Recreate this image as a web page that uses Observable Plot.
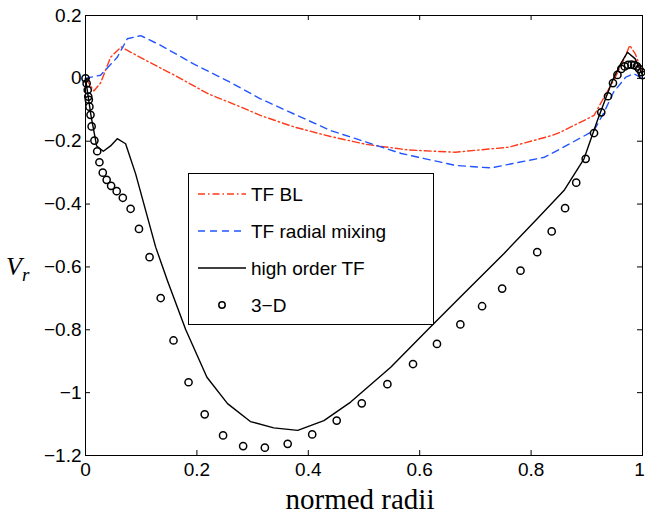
<!DOCTYPE html>
<html><head><meta charset="utf-8">
<script src="https://cdn.jsdelivr.net/npm/d3@7"></script>
<script src="https://cdn.jsdelivr.net/npm/@observablehq/plot@0.6"></script>
<style>body{margin:0;background:#fff}</style>
</head><body><div id="chart"></div>
<script>
// TF BL (red dash-dot)
const blX = [0, 0.015, 0.027, 0.045, 0.064, 0.1, 0.165, 0.22, 0.28, 0.314, 0.375, 0.44, 0.504, 0.58, 0.664, 0.76, 0.837, 0.853, 0.913, 0.931, 0.948, 0.966, 0.977, 0.987, 0.996, 1.0];
const blY = [0, -0.04, -0.015, 0.067, 0.10, 0.065, 0.005, -0.049, -0.092, -0.118, -0.155, -0.185, -0.21, -0.228, -0.235, -0.219, -0.182, -0.171, -0.118, -0.06, -0.007, 0.057, 0.105, 0.078, 0.036, 0.02];
// TF radial mixing (blue dashed)
const rmX = [0, 0.027, 0.057, 0.075, 0.099, 0.135, 0.194, 0.254, 0.314, 0.44, 0.567, 0.664, 0.728, 0.824, 0.853, 0.913, 0.931, 0.948, 0.97, 0.984, 1.0];
const rmY = [0, 0.01, 0.067, 0.126, 0.136, 0.105, 0.046, -0.007, -0.065, -0.166, -0.239, -0.277, -0.285, -0.251, -0.224, -0.166, -0.108, -0.044, 0.004, 0.015, 0.0];
// high order TF (black solid)
const hoX = [0, 0.01, 0.02, 0.032, 0.045, 0.057, 0.072, 0.09, 0.126, 0.147, 0.18, 0.218, 0.255, 0.296, 0.338, 0.381, 0.428, 0.476, 0.548, 0.613, 0.673, 0.751, 0.811, 0.859, 0.895, 0.919, 0.946, 0.962, 0.973, 0.987, 1.0];
const hoY = [0, -0.12, -0.215, -0.232, -0.215, -0.192, -0.208, -0.304, -0.537, -0.643, -0.80, -0.951, -1.035, -1.092, -1.112, -1.12, -1.089, -1.03, -0.919, -0.802, -0.696, -0.558, -0.447, -0.357, -0.256, -0.134, -0.007, 0.05, 0.083, 0.062, 0.01];
// 3-D (circles)
const tdX = [0, 0.002, 0.004, 0.005, 0.006, 0.007, 0.009, 0.011, 0.016, 0.021, 0.025, 0.031, 0.038, 0.046, 0.056, 0.067, 0.081, 0.096, 0.115, 0.135, 0.158, 0.185, 0.214, 0.247, 0.283, 0.322, 0.363, 0.407, 0.451, 0.496, 0.542, 0.588, 0.631, 0.673, 0.712, 0.748, 0.781, 0.811, 0.837, 0.861, 0.881, 0.898, 0.913, 0.926, 0.938, 0.947, 0.955, 0.962, 0.968, 0.974, 0.980, 0.985, 0.990, 0.994, 0.998, 1.0];
const tdY = [0, -0.016, -0.037, -0.058, -0.068, -0.09, -0.116, -0.153, -0.198, -0.232, -0.267, -0.3, -0.323, -0.342, -0.359, -0.38, -0.415, -0.479, -0.569, -0.699, -0.834, -0.967, -1.069, -1.136, -1.17, -1.175, -1.163, -1.133, -1.089, -1.034, -0.973, -0.909, -0.845, -0.783, -0.725, -0.669, -0.612, -0.553, -0.487, -0.413, -0.332, -0.256, -0.174, -0.108, -0.057, -0.015, 0.011, 0.03, 0.038, 0.043, 0.044, 0.042, 0.038, 0.03, 0.02, 0.01];

const xTicks = [0, 0.2, 0.4, 0.6, 0.8, 1];
const xTickLabels = ["0", "0.2", "0.4", "0.6", "0.8", "1"];
const yTicks = [0.2, 0, -0.2, -0.4, -0.6, -0.8, -1, -1.2];
const yTickLabels = ["0.2", "0", "\u22120.2", "\u22120.4", "\u22120.6", "\u22120.8", "\u22121", "\u22121.2"];
const seriesNames = ["TF BL", "TF radial mixing", "high order TF", "3\u2212D"];

const W = 645, H = 516, mL = 85, mR = 3, mT = 15, mB = 61;
const iw = W - mL - mR, ih = H - mT - mB;
const rows = (xs, ys) => xs.map((x, i) => ({x, y: ys[i]}));
const xLab = new Map(xTicks.map((t, i) => [t, xTickLabels[i]]));
const yLab = new Map(yTicks.map((t, i) => [t, yTickLabels[i]]));
const RED = "#ff3a1a", BLUE = "#2255ff";
const xTicksInner = xTicks.slice(0, -1), xTicksLast = xTicks.slice(-1);

const svgEl = Plot.plot({
  width: W, height: H,
  marginLeft: mL, marginRight: mR, marginTop: mT, marginBottom: mB,
  style: {fontFamily: "'Liberation Sans', Arial, Helvetica, sans-serif", fontSize: "19px", color: "#000", background: "#fff"},
  x: {domain: [0, 1]},
  y: {domain: [-1.2, 0.2]},
  marks: [
    Plot.line(rows(blX, blY), {x: "x", y: "y", stroke: RED, strokeWidth: 1.4, strokeDasharray: "7,3,1.5,3"}),
    Plot.line(rows(rmX, rmY), {x: "x", y: "y", stroke: BLUE, strokeWidth: 1.4, strokeDasharray: "7,5"}),
    Plot.line(rows(hoX, hoY), {x: "x", y: "y", stroke: "#000", strokeWidth: 1.4}),
    Plot.dot(rows(tdX, tdY), {x: "x", y: "y", r: 3.6, stroke: "#000", strokeWidth: 1.5, fill: "none"}),
    Plot.frame({stroke: "#000", strokeWidth: 1}),
    Plot.tickX(xTicks, {x: d => d, insetTop: ih - 5, stroke: "#000"}),
    Plot.tickX(xTicks, {x: d => d, insetBottom: ih - 5, stroke: "#000"}),
    Plot.tickY(yTicks, {y: d => d, insetRight: iw - 5, stroke: "#000"}),
    Plot.tickY(yTicks, {y: d => d, insetLeft: iw - 5, stroke: "#000"}),
    Plot.axisX(xTicksInner, {tickSize: 0, tickPadding: 7, tickFormat: d => xLab.get(d), label: null}),
    Plot.axisX(xTicksLast, {tickSize: 0, tickPadding: 7, tickFormat: d => xLab.get(d), label: null, dx: -3}),
    Plot.axisY(yTicks, {tickSize: 0, tickPadding: 4, tickFormat: d => yLab.get(d), label: null})
  ]
});

const svg = d3.select(svgEl);
// axis labels
svg.append("text").attr("x", 360).attr("y", 509).attr("text-anchor", "middle")
  .attr("font-family", "'Liberation Serif', 'Times New Roman', serif").attr("font-size", 29)
  .attr("fill", "#000").text("normed radii");
const yl = svg.append("text").attr("x", 6).attr("y", 275).attr("text-anchor", "start")
  .attr("font-family", "'Liberation Serif', 'Times New Roman', serif").attr("font-style", "italic")
  .attr("font-size", 26).attr("fill", "#000");
yl.append("tspan").text("V");
yl.append("tspan").attr("dy", 6).attr("font-size", 19).text("r");

// legend
const lg = svg.append("g").attr("text-anchor", "start");
lg.append("rect").attr("x", 188.5).attr("y", 173.5).attr("width", 245).attr("height", 151)
  .attr("fill", "#fff").attr("stroke", "#000").attr("stroke-width", 1);
const ly = [194, 231, 268, 305];
const styles = [
  {stroke: RED, dash: "7,3,1.5,3"},
  {stroke: BLUE, dash: "7,5"},
  {stroke: "#000", dash: null},
  null
];
seriesNames.forEach((name, i) => {
  const s = styles[i];
  if (s) {
    lg.append("line").attr("x1", 198).attr("x2", 246).attr("y1", ly[i]).attr("y2", ly[i])
      .attr("stroke", s.stroke).attr("stroke-width", 1.4).attr("stroke-dasharray", s.dash);
  } else {
    lg.append("circle").attr("cx", 222).attr("cy", ly[i]).attr("r", 3.2)
      .attr("fill", "none").attr("stroke", "#000").attr("stroke-width", 1.5);
  }
  lg.append("text").attr("x", 251).attr("y", ly[i]).attr("dy", "0.36em").attr("text-anchor", "start")
    .attr("font-family", "'Liberation Sans', Arial, sans-serif").attr("font-size", 19)
    .attr("fill", "#000").text(name);
});

document.getElementById("chart").appendChild(svgEl);
</script>
</body></html>
